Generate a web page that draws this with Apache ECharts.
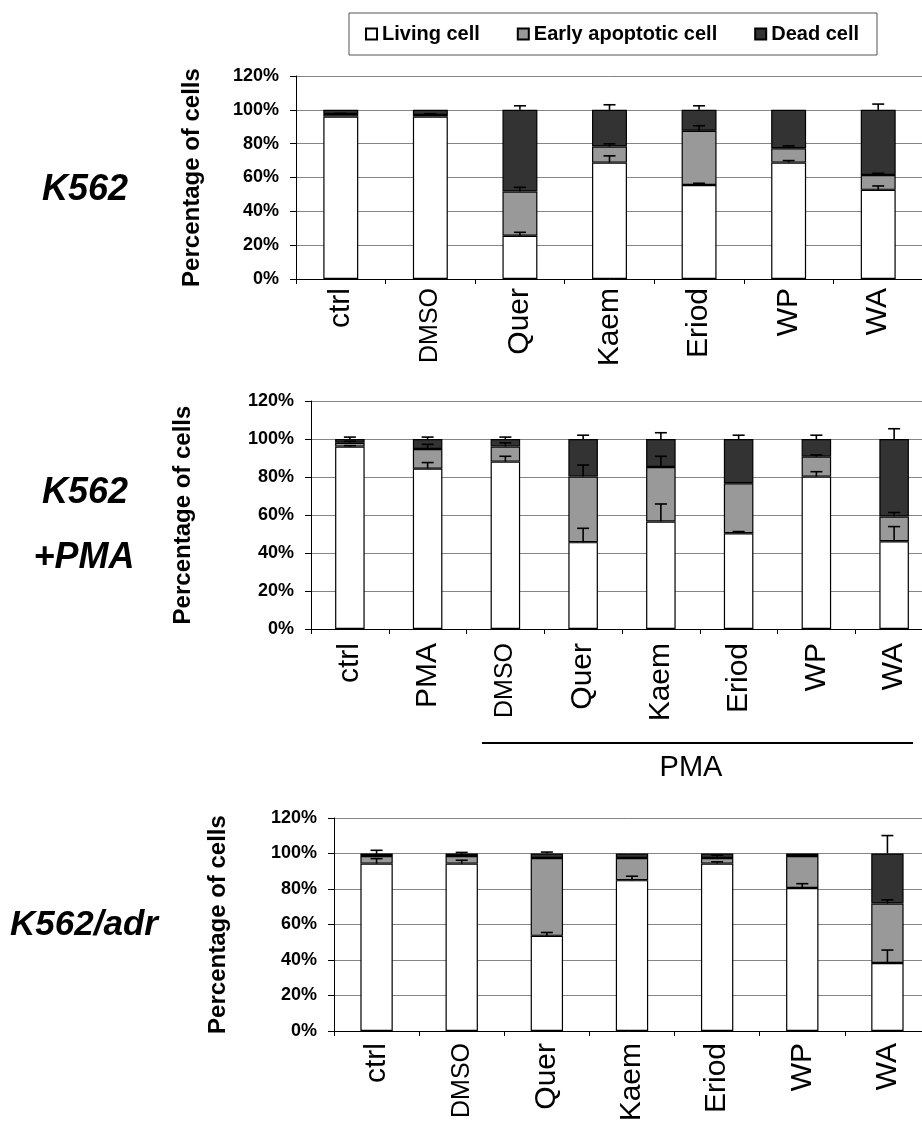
<!DOCTYPE html>
<html>
<head>
<meta charset="utf-8">
<script src="https://cdn.jsdelivr.net/npm/echarts@6/dist/echarts.min.js"></script>
<style>
html,body{margin:0;padding:0;background:#fff;}
#chart{width:922px;height:1124px;}
</style>
</head>
<body>
<div id="chart"></div>
<script>
// ---------- data ----------
const seriesNames = ['Living cell', 'Early apoptotic cell', 'Dead cell'];
const yTicks = [0, 20, 40, 60, 80, 100, 120];
const panelLabels = [['K562'], ['K562', '+PMA'], ['K562/adr']];
const yTitle = 'Percentage of cells';
const groupLabel = 'PMA';

// Panel 1: K562
const categories1 = ['ctrl', 'DMSO', 'Quer', 'Kaem', 'Eriod', 'WP', 'WA'];
const living1 = [96, 96, 25.6, 68.8, 55.6, 68.8, 52.7];
const early1 = [1.5, 1, 26.1, 9.5, 32, 8.5, 8.8];
const dead1 = [2.5, 3, 48.3, 21.7, 12.4, 22.7, 38.5];
const errLiving1 = [0, 0, 2, 4, 1, 1.2, 2.3];
const errEarly1 = [0.4, 0.7, 2.5, 1.6, 3, 1.4, 1];
const errDead1 = [0, 0, 2.4, 3, 2.4, 0, 3.4];

// Panel 2: K562 + PMA
const categories2 = ['ctrl', 'PMA', 'DMSO', 'Quer', 'Kaem', 'Eriod', 'WP', 'WA'];
const living2 = [96, 84.4, 88.1, 45.7, 56.6, 50.4, 80.2, 46.2];
const early2 = [2, 10.3, 7.9, 34.5, 28.7, 26.3, 10.5, 13];
const dead2 = [2, 5.3, 4, 19.8, 14.7, 23.3, 9.3, 40.8];
const errLiving2 = [0.5, 3.2, 2.8, 7.3, 9.2, 0.9, 2.6, 7.7];
const errEarly2 = [0.8, 2.5, 2, 6.1, 5.6, 0, 0.9, 2.1];
const errDead2 = [1, 1, 1, 2, 3.3, 2, 2, 5.4];

// Panel 3: K562/adr
const categories3 = ['ctrl', 'DMSO', 'Quer', 'Kaem', 'Eriod', 'WP', 'WA'];
const living3 = [94.3, 94.3, 53.6, 85, 94.3, 80.6, 38.3];
const early3 = [4.3, 4.3, 43.9, 12.5, 3.2, 18, 33.5];
const dead3 = [1.4, 1.4, 2.5, 2.5, 2.5, 1.4, 28.2];
const errLiving3 = [2.8, 1.9, 1.9, 2.2, 1, 2.4, 7.3];
const errEarly3 = [3.2, 2, 0, 0, 1.5, 0, 2.1];
const errDead3 = [0, 0, 0.8, 0, 0, 0, 10.1];

// ---------- styling / layout ----------
const FONT = "'Liberation Sans', Arial, sans-serif";
const colors = ['#ffffff', '#999999', '#333333'];
const panels = [
  { cats: categories1, vals: [living1, early1, dead1], errs: [errLiving1, errEarly1, errDead1],
    grid: { left: 296, top: 76, width: 627, height: 203 }, barWidth: '39%', nameGap: 92, labelMargin: 9 },
  { cats: categories2, vals: [living2, early2, dead2], errs: [errLiving2, errEarly2, errDead2],
    grid: { left: 311, top: 401, width: 622, height: 228 }, barWidth: '38%', nameGap: 116, labelMargin: 14 },
  { cats: categories3, vals: [living3, early3, dead3], errs: [errLiving3, errEarly3, errDead3],
    grid: { left: 334, top: 818, width: 596, height: 213 }, barWidth: '38%', nameGap: 104, labelMargin: 12 }
];

function errData(p) {
  const out = [];
  p.cats.forEach((c, j) => {
    let cum = 0;
    for (let k = 0; k < 3; k++) {
      cum += p.vals[k][j];
      const e = p.errs[k][j];
      if (e > 0) out.push([j, cum, cum + e]);
    }
  });
  return out;
}

function renderErr(params, api) {
  const x = api.value(0), y0 = api.value(1), y1 = api.value(2);
  const p0 = api.coord([x, y0]);
  const p1 = api.coord([x, y1]);
  const hw = 6;
  const st = { stroke: '#000', lineWidth: 1.6 };
  return {
    type: 'group',
    children: [
      { type: 'line', shape: { x1: p0[0], y1: p0[1], x2: p1[0], y2: p1[1] }, style: st },
      { type: 'line', shape: { x1: p1[0] - hw, y1: p1[1], x2: p1[0] + hw, y2: p1[1] }, style: st }
    ]
  };
}

const grids = [], xAxes = [], yAxes = [], series = [];
panels.forEach((p, i) => {
  grids.push(Object.assign({ outerBoundsMode: 'none', containLabel: false }, p.grid));
  xAxes.push({
    type: 'category', gridIndex: i, data: p.cats,
    axisLine: { show: true, lineStyle: { color: '#000', width: 1 } },
    axisTick: { show: true, length: 5, interval: 0, lineStyle: { color: '#000' } },
    splitLine: { show: false },
    axisLabel: {
      interval: 0, rotate: 90, margin: p.labelMargin, color: '#000',
      fontFamily: FONT, fontSize: 30,
      formatter: v => v === 'DMSO' ? '{s|' + v + '}' : v,
      rich: { s: { fontSize: 25, fontFamily: FONT, color: '#000' } }
    }
  });
  yAxes.push({
    type: 'value', gridIndex: i, min: yTicks[0], max: yTicks[yTicks.length - 1], interval: yTicks[1] - yTicks[0],
    name: yTitle, nameLocation: 'middle', nameRotate: 90, nameGap: p.nameGap,
    nameTextStyle: { fontFamily: FONT, fontSize: 24, fontWeight: 'bold', color: '#000' },
    axisLine: { show: true, lineStyle: { color: '#000', width: 1 } },
    axisTick: { show: true, length: 6, lineStyle: { color: '#000' } },
    splitLine: { show: true, lineStyle: { color: '#858585', width: 1 } },
    axisLabel: { formatter: '{value}%', fontFamily: FONT, fontSize: 18, fontWeight: 'bold', color: '#000', margin: 17 }
  });
  for (let k = 0; k < 3; k++) {
    series.push({
      type: 'bar', name: seriesNames[k], xAxisIndex: i, yAxisIndex: i, stack: 'p' + i,
      barWidth: p.barWidth, data: p.vals[k],
      itemStyle: { color: colors[k], borderColor: '#000', borderWidth: 1.2 },
      emphasis: { disabled: true }, animation: false
    });
  }
  series.push({
    type: 'custom', name: 'err' + i, xAxisIndex: i, yAxisIndex: i,
    renderItem: renderErr, data: errData(p), encode: { x: 0, y: [1, 2] },
    z: 10, animation: false, silent: true
  });
});

const chart = echarts.init(document.getElementById('chart'), null, { renderer: 'canvas' });
chart.setOption({
  backgroundColor: '#fff',
  animation: false,
  legend: {
    data: seriesNames, left: 349, top: 13, orient: 'horizontal',
    icon: 'rect', itemWidth: 11, itemHeight: 11, itemGap: 37,
    padding: [11, 18, 11, 16],
    borderColor: '#555', borderWidth: 1, borderRadius: 0,
    textStyle: { fontFamily: FONT, fontSize: 20, fontWeight: 'bold', color: '#000' },
    selectedMode: false
  },
  grid: grids, xAxis: xAxes, yAxis: yAxes, series: series,
  graphic: [
    { type: 'text', x: 85, y: 190, style: { text: panelLabels[0][0], font: 'italic bold 36px ' + FONT, fill: '#000', align: 'center', verticalAlign: 'middle' } },
    { type: 'text', x: 85, y: 493, style: { text: panelLabels[1][0], font: 'italic bold 36px ' + FONT, fill: '#000', align: 'center', verticalAlign: 'middle' } },
    { type: 'text', x: 84, y: 558, style: { text: panelLabels[1][1], font: 'italic bold 36px ' + FONT, fill: '#000', align: 'center', verticalAlign: 'middle' } },
    { type: 'text', x: 84, y: 925, style: { text: panelLabels[2][0], font: 'italic bold 35px ' + FONT, fill: '#000', align: 'center', verticalAlign: 'middle' } },
    { type: 'line', shape: { x1: 482, y1: 743, x2: 913, y2: 743 }, style: { stroke: '#000', lineWidth: 2 } },
    { type: 'text', x: 691, y: 768, style: { text: groupLabel, font: '29px ' + FONT, fill: '#000', align: 'center', verticalAlign: 'middle' } }
  ]
});
</script>
</body>
</html>
